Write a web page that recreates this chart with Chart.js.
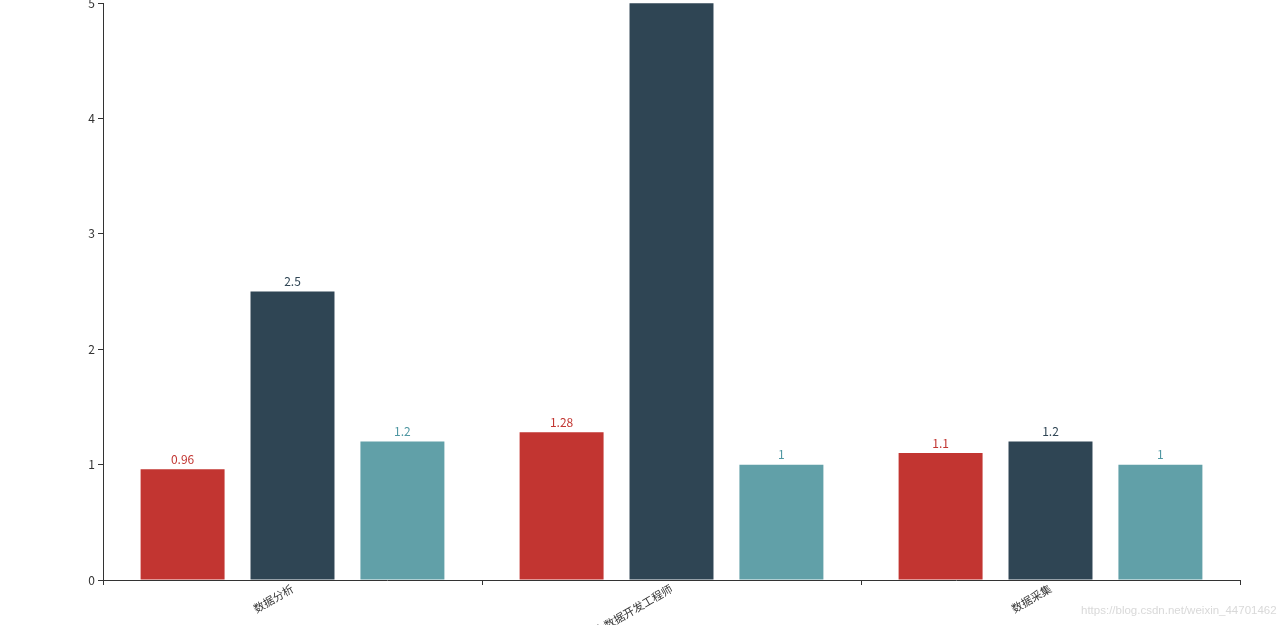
<!DOCTYPE html>
<html><head><meta charset="utf-8">
<script src="https://cdn.jsdelivr.net/npm/chart.js@4"></script>
<style>
html,body{margin:0;padding:0;background:#fff;overflow:hidden;width:1280px;height:625px;}
#wrap{position:absolute;left:0;top:-7px;width:1280px;height:632px;}
#wm{position:absolute;left:1081px;top:604px;font:11.5px "Liberation Sans",Arial,sans-serif;color:#d9d9d9;white-space:nowrap;}
</style></head><body>
<div id="wrap"><canvas id="c"></canvas></div>
<div id="wm">https://blog.csdn.net/weixin_44701462</div>
<script>
const categories = ['数据分析', '大数据开发工程师', '数据采集'];
const seriesA = [0.96, 1.28, 1.1];
const seriesB = [2.5, 6, 1.2];
const seriesC = [1.2, 1, 1];
const yTicks = [0, 1, 2, 3, 4, 5];
const colors = ['#c23531', '#2f4554', '#61a0a8'];
const labelColors = ['#c23531', '#2f4554', '#4f97a2'];

const font = '"Noto Sans CJK SC", "Noto Sans", sans-serif';

const valueLabels = {
  id: 'valueLabels',
  afterDatasetsDraw(chart) {
    const ctx = chart.ctx;
    const area = chart.chartArea;
    ctx.save();
    ctx.font = '12px ' + font;
    ctx.textAlign = 'center';
    ctx.textBaseline = 'bottom';
    chart.data.datasets.forEach((ds, i) => {
      const meta = chart.getDatasetMeta(i);
      meta.data.forEach((bar, j) => {
        if (bar.y < area.top + 2) return;
        ctx.fillStyle = labelColors[i];
        ctx.fillText(String(ds.data[j]), bar.x, bar.y - 4);
      });
    });
    ctx.restore();
  }
};

new Chart(document.getElementById('c'), {
  type: 'bar',
  data: {
    labels: categories,
    datasets: [
      { data: seriesA, backgroundColor: colors[0] },
      { data: seriesB, backgroundColor: colors[1] },
      { data: seriesC, backgroundColor: colors[2] }
    ]
  },
  options: {
    responsive: true,
    maintainAspectRatio: false,
    animation: false,
    layout: { padding: { left: 0, right: 40, top: 0, bottom: 0 } },
    datasets: { bar: { categoryPercentage: 0.87, barPercentage: 0.764 } },
    plugins: { legend: { display: false }, tooltip: { enabled: false } },
    scales: {
      x: {
        afterFit(s) { s.height = 45; },
        grid: { display: true, drawOnChartArea: false, tickLength: 5, color: '#333', offset: true },
        border: { display: true, color: '#333', width: 1 },
        ticks: { color: '#333', font: { size: 11, family: font }, minRotation: 30, maxRotation: 30, padding: -3, autoSkip: false }
      },
      y: {
        min: 0, max: 5,
        afterFit(s) { s.width = 103; },
        afterBuildTicks(s) { s.ticks = yTicks.map(v => ({ value: v })); },
        grid: { display: true, drawOnChartArea: false, tickLength: 5, color: '#333' },
        border: { display: true, color: '#333', width: 1 },
        ticks: { color: '#333', font: { size: 12, family: font }, padding: 3 }
      }
    }
  },
  plugins: [valueLabels]
});
</script>
</body></html>
